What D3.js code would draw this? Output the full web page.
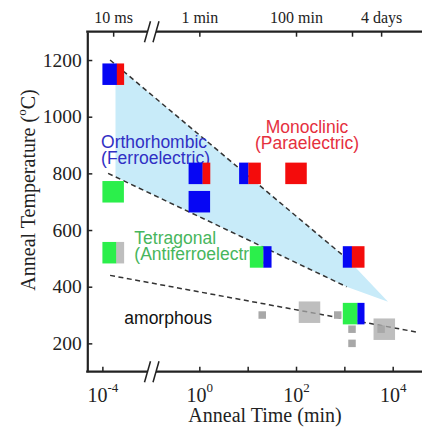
<!DOCTYPE html>
<html>
<head>
<meta charset="utf-8">
<script src="https://cdn.jsdelivr.net/npm/d3@7"></script>
<style>
  html, body { margin: 0; padding: 0; background: #fff; }
  svg { display: block; }
</style>
</head>
<body>
<div id="chart"></div>
<script>
// ---------------- data ----------------
// anneal samples: time (min), temperature (°C), marker kind, phase fractions
const sampleTime = [1/6000, 1/6000, 1/6000, 1, 1, 11.1, 100, 18.5, 1550, 1550, 190, 20, 730, 1440, 1440, 5760, 6700];
const sampleTemp = [1150, 735, 520, 800, 700, 800, 800, 505, 505, 305, 310, 300, 300, 250, 200, 250, 250];
const sampleKind = ["film","film","film","film","film","film","film","film","film","film","film","trace","trace","trace","trace","trace","film"];
const samplePhases = [
  [["O", 0.67], ["M", 0.33]],
  [["T", 1]],
  [["T", 0.64], ["A", 0.36]],
  [["O", 0.65], ["M", 0.35]],
  [["O", 1]],
  [["O", 0.43], ["M", 0.57]],
  [["M", 1]],
  [["T", 0.63], ["O", 0.37]],
  [["O", 0.42], ["M", 0.58]],
  [["T", 0.68], ["O", 0.32]],
  [["A", 1]],
  [["A", 1]],
  [["A", 1]],
  [["A", 1]],
  [["A", 1]],
  [["A", 1]],
  [["A", 1]]
];
const phaseCodes = ["O", "M", "T", "A"];

// orthorhombic (ferroelectric) window
const shadeTime = [1.86e-4, 1200, 8000, 1110, 1.86e-4];
const shadeTemp = [1183, 495, 347, 400, 788];

// dashed phase boundaries: [start, end]
const boundaryTime = [[1.44e-4, 1200], [1.31e-4, 1110], [1.44e-4, 31000]];
const boundaryTemp = [[1200, 495], [800, 400], [440, 240]];

// region annotations
const regionName = ["Orthorhombic", "Monoclinic", "Tetragonal", "amorphous"];
const regionSub = ["(Ferroelectric)", "(Paraelectric)", "(Antiferroelectric)", ""];
const regionPhase = ["O", "M", "T", "none"];
const regionTime = [9.4e-5, 169, 4.54e-4, 2.83e-4];
const regionTemp = [890, 944, 550, 268];

// axes
const yTicks = [200, 400, 600, 800, 1000, 1200];
const xTickExp = [-4, 0, 1, 2, 3, 4];
const xTickLabelExp = [-4, 0, 2, 4];
const topTickTime = [1/6000, 1, 100, 1440, 5760];
const topTickLabel = ["10 ms", "1 min", "100 min", "", "4 days"];

// ---------------- drawing ----------------
const W = 422, H = 428;
const serif = "'Liberation Serif','Times New Roman',Times,serif";
const sans = "'Liberation Sans',Arial,Helvetica,sans-serif";

const svg = d3.select("#chart").append("svg").attr("width", W).attr("height", H);

// broken log axis: log10(min) -> px
const x = d3.scaleLinear().domain([-4.31, -3, -1, 4.6]).range([87.3, 151, 151, 421.7]);
const xt = t => x(Math.log10(t));
const y = d3.scaleLinear().domain([100, 1300]).range([371.7, 31.7]);

const phaseColor = d3.scaleOrdinal().domain(phaseCodes).range(["#0606f4", "#f40c0c", "#2bef4b", "#a8a8a8"]);
const textColor = d3.scaleOrdinal().domain(["O", "M", "T", "none"]).range(["#3030c4", "#e5303e", "#47b65c", "#111111"]);
const textAlign = d3.scaleOrdinal().domain(["O", "M", "T", "none"]).range(["start", "middle", "start", "start"]);
const markSize = d3.scaleOrdinal().domain(["film", "trace"]).range([21.5, 7.5]);

// shading
svg.append("path")
  .attr("d", d3.line().x(d => xt(d[0])).y(d => y(d[1]))(d3.zip(shadeTime, shadeTemp)) + "Z")
  .attr("fill", "#c8ebf9");

// dashed boundaries
boundaryTime.forEach((bt, i) => {
  svg.append("line")
    .attr("x1", xt(bt[0])).attr("y1", y(boundaryTemp[i][0]))
    .attr("x2", xt(bt[1])).attr("y2", y(boundaryTemp[i][1]))
    .attr("stroke", "#333").attr("stroke-width", 1.5)
    .attr("stroke-dasharray", "5,3.5");
});

// region labels
regionName.forEach((n, i) => {
  const t = svg.append("text")
    .attr("x", xt(regionTime[i])).attr("y", y(regionTemp[i]))
    .attr("text-anchor", textAlign(regionPhase[i]))
    .attr("font-family", sans).attr("font-size", 17.5)
    .attr("fill", textColor(regionPhase[i]));
  t.append("tspan").text(n);
  if (regionSub[i]) {
    t.append("tspan").attr("x", xt(regionTime[i])).attr("dy", 16).text(regionSub[i]);
  }
});

// samples
sampleTime.forEach((tm, i) => {
  const s = markSize(sampleKind[i]);
  const cx = xt(tm), cy = y(sampleTemp[i]);
  let left = cx - s / 2;
  samplePhases[i].forEach(([ph, f]) => {
    const w = s * f;
    svg.append("rect")
      .attr("x", left).attr("y", cy - s / 2)
      .attr("width", w + (f < 1 ? 0.2 : 0)).attr("height", s)
      .attr("fill", phaseColor(ph))
      .attr("fill-opacity", ph === "A" && sampleKind[i] === "film" ? 0.75 : 1);
    left += w;
  });
});

// ---------------- axes ----------------
const axisColor = "#222";

// left axis
const gy = svg.append("g").attr("transform", `translate(${x.range()[0]},0)`)
  .call(d3.axisLeft(y).tickValues(yTicks).tickFormat(d3.format("d"))
    .tickSizeInner(-5).tickSizeOuter(0).tickPadding(5.5));
gy.select(".domain").attr("stroke", axisColor).attr("stroke-width", 2.2);
gy.selectAll(".tick line").attr("stroke", axisColor).attr("stroke-width", 1.5);
gy.selectAll(".tick text").attr("font-family", serif).attr("font-size", 19.5).attr("fill", "#222");

// bottom axis
const y0 = y.range()[0], yTop = y.range()[1];
const gx = svg.append("g").attr("transform", `translate(0,${y0})`)
  .call(d3.axisBottom(x).tickValues(xTickExp).tickSizeInner(-5).tickSizeOuter(0));
gx.select(".domain").remove();
gx.selectAll(".tick line").attr("stroke", axisColor).attr("stroke-width", 1.5);
gx.selectAll(".tick text").each(function(d) {
  const t = d3.select(this).text(null).attr("y", 30).attr("dy", null)
    .attr("font-family", serif).attr("font-size", 20).attr("fill", "#222");
  if (xTickLabelExp.includes(d)) {
    t.append("tspan").text("10");
    t.append("tspan").attr("dy", -10).attr("font-size", 13).text(String(d));
  }
});

// top axis
const gt = svg.append("g").attr("transform", `translate(0,${yTop})`)
  .call(d3.axisTop(x).tickValues(topTickTime.map(Math.log10)).tickSizeInner(-5).tickSizeOuter(0).tickPadding(8.4)
    .tickFormat((d, i) => topTickLabel[i]));
gt.select(".domain").remove();
gt.selectAll(".tick line").attr("stroke", axisColor).attr("stroke-width", 1.5);
gt.selectAll(".tick text").attr("font-family", serif).attr("font-size", 16).attr("fill", "#222")
  .each(function() {
    const el = this, w = el.getComputedTextLength();
    const tr = el.parentNode.getAttribute("transform");
    const tx = +/translate\(([-\d.]+)/.exec(tr)[1];
    const maxX = W - 2 - w / 2;
    if (tx > maxX) d3.select(el).attr("x", maxX - tx);
  });

// axis lines with break marks
const breakX = x(-3);
const gapL = breakX - 3.5, gapR = breakX + 5;
[y0, yTop].forEach(yy => {
  svg.append("line").attr("x1", x.range()[0] - 1.1).attr("x2", gapL).attr("y1", yy).attr("y2", yy)
    .attr("stroke", axisColor).attr("stroke-width", 2.2);
  svg.append("line").attr("x1", gapR).attr("x2", W).attr("y1", yy).attr("y2", yy)
    .attr("stroke", axisColor).attr("stroke-width", 2.2);
  [gapL, gapR].forEach(cx => {
    svg.append("line").attr("x1", cx - 3).attr("y1", yy + 10.5).attr("x2", cx + 3).attr("y2", yy - 10.5)
      .attr("stroke", axisColor).attr("stroke-width", 1.5);
  });
});

// axis titles
svg.append("text").attr("x", 265).attr("y", 421.5).attr("text-anchor", "middle")
  .attr("font-family", serif).attr("font-size", 20).attr("fill", "#222")
  .text("Anneal Time (min)");

const yl = svg.append("text").attr("transform", "translate(35,190) rotate(-90)")
  .attr("text-anchor", "middle").attr("font-family", serif).attr("font-size", 20).attr("fill", "#222");
yl.append("tspan").text("Anneal Temperature (");
yl.append("tspan").attr("dy", -9).attr("font-size", 13).text("o");
yl.append("tspan").attr("dy", 9).text("C)");
</script>
</body>
</html>
